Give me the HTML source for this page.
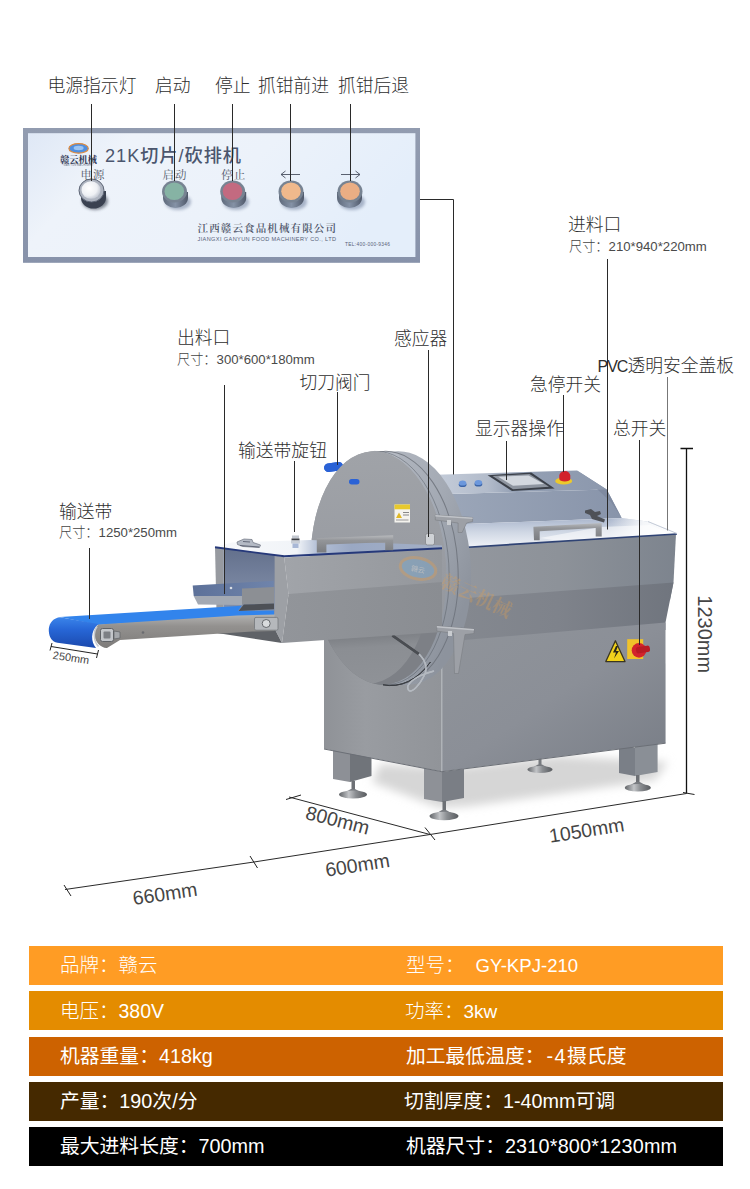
<!DOCTYPE html>
<html lang="zh-CN">
<head>
<meta charset="utf-8">
<title>21K切片/砍排机</title>
<style>
html,body{margin:0;padding:0;background:#fff;}
body{width:750px;height:1189px;position:relative;overflow:hidden;font-family:"Liberation Sans","Noto Sans CJK SC",sans-serif;color:#333;}
#art{position:absolute;left:0;top:0;width:750px;height:1189px;display:block;}
.lb{position:absolute;white-space:nowrap;font-size:17.8px;line-height:20px;font-weight:300;color:#2e2e2e;}
.sm{position:absolute;white-space:nowrap;font-size:13.2px;line-height:14px;font-weight:300;color:#444;}
.pvc{font-size:16px;letter-spacing:-1px;}
.sm .n{color:#4a4a4a;}
.row{position:absolute;left:29px;width:694px;height:39px;}
.row span{position:absolute;top:0;line-height:39px;font-size:19.5px;color:#fff;white-space:nowrap;font-weight:300;}
.row span.a{left:31px;}
.row span.b{left:377px;}
.row.h span{font-weight:400;font-size:19.800px;}
.row i{font-style:normal;}
</style>
</head>
<body>
<svg id="art" width="750" height="1189" viewBox="0 0 750 1189">
<defs>
<linearGradient id="pnl" x1="0" y1="0" x2="1" y2="1">
<stop offset="0" stop-color="#eef2fa"/><stop offset="0.5" stop-color="#f6f8fc"/><stop offset="1" stop-color="#e9eef8"/>
</linearGradient>
</defs>
<!--PANEL-->
<g id="panel">
<defs>
<linearGradient id="pnlb" x1="0" y1="0" x2="0" y2="1"><stop offset="0" stop-color="#929cb0"/><stop offset="1" stop-color="#8792aa"/></linearGradient>
<linearGradient id="pnl2" x1="0" y1="0" x2="1" y2="0.3"><stop offset="0" stop-color="#dfe8f6"/><stop offset="0.25" stop-color="#eef3fa"/><stop offset="0.6" stop-color="#ecf2fa"/><stop offset="1" stop-color="#e4eefa"/></linearGradient>
<radialGradient id="capW" cx="0.4" cy="0.4" r="0.6"><stop offset="0" stop-color="#ffffff"/><stop offset="0.7" stop-color="#eef0f4"/><stop offset="1" stop-color="#c9ced8"/></radialGradient>
<linearGradient id="btnBody" x1="0" y1="0" x2="1" y2="0"><stop offset="0" stop-color="#5f6a7b"/><stop offset="0.5" stop-color="#8592a6"/><stop offset="1" stop-color="#4f5869"/></linearGradient>
<filter id="bl1" x="-30%" y="-30%" width="160%" height="160%"><feGaussianBlur stdDeviation="1.6"/></filter>
</defs>
<rect x="23" y="128" width="397" height="134.800" fill="url(#pnlb)"/>
<rect x="28" y="133.200" width="387.400" height="123.800" fill="url(#pnl2)"/>
<!-- logo -->
<ellipse cx="78.600" cy="148.400" rx="9.700" ry="4.800" fill="#4f8fe0" stroke="#e08a3c" stroke-width="1.200"/>
<ellipse cx="78.600" cy="148" rx="5" ry="2.200" fill="#9cc4f2"/>
<text x="78.500" y="162.500" text-anchor="middle" font-family="'Liberation Serif','Noto Serif CJK SC',serif" font-weight="700" font-size="9.200" fill="#2c3350" textLength="37" lengthAdjust="spacingAndGlyphs">赣云机械</text>
<text x="78.500" y="166" text-anchor="middle" font-family="'Liberation Sans',sans-serif" font-size="2.600" fill="#6a7186" textLength="30">GAN YUN MACHINERY</text>
<text x="105" y="162.300" font-family="'Liberation Sans','Noto Sans CJK SC',sans-serif" font-weight="500" font-size="18.200" fill="#4b566e" textLength="136" lengthAdjust="spacing">21K切片/砍排机</text>
<g font-family="'Liberation Serif','Noto Serif CJK SC',serif" font-size="11.500" fill="#505769" text-anchor="middle">
<text x="93" y="179" letter-spacing="1">电源</text>
<text x="175" y="179" letter-spacing="1">启动</text>
<text x="233.800" y="179" letter-spacing="1">停止</text>
</g>
<g stroke="#4a5060" stroke-width="0.900" fill="none">
<path d="M281 174.500H300M285.500 171L281 174.500L285.500 178"/>
<path d="M341 174.500H360M355.500 171L360 174.500L355.500 178"/>
</g>
<!-- buttons -->
<g id="btns">
<g><ellipse cx="95" cy="201" rx="13" ry="9" fill="#2c3442" opacity="0.55" filter="url(#bl1)"/>
<path d="M79.500 191v7a12.500 10.500 0 0 0 25 0v-7z" fill="#3a4150" transform="translate(1.500 0)"/>
<ellipse cx="91.500" cy="190.500" rx="12.500" ry="11.500" fill="#aeb4c0"/>
<ellipse cx="91.500" cy="190.500" rx="12.500" ry="11.500" fill="none" stroke="#5d6575" stroke-width="1"/>
<ellipse cx="91" cy="190" rx="9.500" ry="8.800" fill="url(#capW)"/></g>
<g><ellipse cx="178" cy="202" rx="13" ry="8" fill="#5a6a8a" opacity="0.45" filter="url(#bl1)"/>
<path d="M162 192v6a12.500 10 0 0 0 25 0v-6z" fill="url(#btnBody)" transform="translate(1 0)"/>
<ellipse cx="174.500" cy="191.500" rx="12.500" ry="11" fill="#778392"/>
<ellipse cx="174.300" cy="191.300" rx="9.800" ry="8.800" fill="#86b3a4"/></g>
<g><ellipse cx="236" cy="202" rx="13" ry="8" fill="#5a6a8a" opacity="0.45" filter="url(#bl1)"/>
<path d="M220.200 192v6a12.500 10 0 0 0 25 0v-6z" fill="url(#btnBody)" transform="translate(1 0)"/>
<ellipse cx="232.700" cy="191.500" rx="12.500" ry="11" fill="#778392"/>
<ellipse cx="232.500" cy="191.300" rx="9.800" ry="8.800" fill="#c36a80"/></g>
<g><ellipse cx="294" cy="202" rx="13" ry="8" fill="#5a6a8a" opacity="0.45" filter="url(#bl1)"/>
<path d="M278.500 192v6a12.500 10 0 0 0 25 0v-6z" fill="url(#btnBody)" transform="translate(0.500 0)"/>
<ellipse cx="291" cy="191.500" rx="12.500" ry="11" fill="#778392"/>
<ellipse cx="291" cy="191.300" rx="9.800" ry="8.800" fill="#f0b98c"/></g>
<g><ellipse cx="352" cy="202" rx="13" ry="8" fill="#5a6a8a" opacity="0.45" filter="url(#bl1)"/>
<path d="M337 192v6a12.500 10 0 0 0 25 0v-6z" fill="url(#btnBody)" transform="translate(0 0)"/>
<ellipse cx="350" cy="191.500" rx="12.500" ry="11" fill="#778392"/>
<ellipse cx="350" cy="191.300" rx="9.800" ry="8.800" fill="#eaae84"/></g>
</g>
<text x="197.500" y="232" font-family="'Liberation Serif','Noto Serif CJK SC',serif" font-size="10.500" font-weight="600" fill="#4d5468" textLength="138.500" lengthAdjust="spacing">江西赣云食品机械有限公司</text>
<text x="197.500" y="240.800" font-family="'Liberation Sans',sans-serif" font-size="5.600" fill="#566078" textLength="138.500" lengthAdjust="spacing">JIANGXI GANYUN FOOD MACHINERY CO., LTD</text>
<text x="345" y="245.800" font-family="'Liberation Sans',sans-serif" font-size="4.800" fill="#566078" textLength="45" lengthAdjust="spacing">TEL:400-000-9346</text>

</g>
<!--MACHINE-->
<g id="machine">
<defs>
<radialGradient id="shd" cx="0.5" cy="0.5" r="0.5"><stop offset="0" stop-color="#a8a8a8" stop-opacity="0.8"/><stop offset="0.55" stop-color="#cfcfcf" stop-opacity="0.55"/><stop offset="1" stop-color="#ffffff" stop-opacity="0"/></radialGradient>
<linearGradient id="gFront" x1="0" y1="0" x2="1" y2="0"><stop offset="0" stop-color="#8f9297"/><stop offset="0.35" stop-color="#999ca1"/><stop offset="1" stop-color="#919499"/></linearGradient>
<linearGradient id="gRight" x1="0" y1="0" x2="1" y2="1"><stop offset="0" stop-color="#90949a"/><stop offset="0.5" stop-color="#8b8f97"/><stop offset="1" stop-color="#787d86"/></linearGradient>
<linearGradient id="gBand1" x1="0" y1="0" x2="1" y2="0"><stop offset="0" stop-color="#94989f"/><stop offset="0.5" stop-color="#8d9299"/><stop offset="1" stop-color="#7d848e"/></linearGradient>
<linearGradient id="gBand2" x1="0" y1="0" x2="1" y2="0"><stop offset="0" stop-color="#858990"/><stop offset="0.5" stop-color="#7f838b"/><stop offset="1" stop-color="#70757e"/></linearGradient>
<linearGradient id="gDisc" gradientUnits="userSpaceOnUse" x1="0" y1="451" x2="0" y2="685"><stop offset="0" stop-color="#a0a3a8"/><stop offset="0.4" stop-color="#9a9da3"/><stop offset="0.76" stop-color="#94979d"/><stop offset="0.78" stop-color="#8b8e94"/><stop offset="1" stop-color="#8e9197"/></linearGradient>
<linearGradient id="gRim2" gradientUnits="userSpaceOnUse" x1="0" y1="451" x2="0" y2="685"><stop offset="0" stop-color="#b5bac3"/><stop offset="1" stop-color="#9aa0aa"/></linearGradient>
<linearGradient id="gRim" x1="0.3" y1="0" x2="1" y2="0.6"><stop offset="0" stop-color="#b5bac3"/><stop offset="0.55" stop-color="#a4aab4"/><stop offset="1" stop-color="#8d939d"/></linearGradient>
<linearGradient id="gTop" x1="0" y1="0" x2="0" y2="1"><stop offset="0" stop-color="#aab6cc"/><stop offset="0.45" stop-color="#cfd7e4"/><stop offset="1" stop-color="#f3f5f9"/></linearGradient>
<linearGradient id="gTopR" x1="0" y1="0" x2="1" y2="0"><stop offset="0" stop-color="#ffffff" stop-opacity="0"/><stop offset="0.5" stop-color="#fbfcfd" stop-opacity="0.9"/><stop offset="1" stop-color="#ffffff" stop-opacity="1"/></linearGradient>
<linearGradient id="gTopH" gradientUnits="userSpaceOnUse" x1="215" y1="0" x2="442" y2="0"><stop offset="0" stop-color="#f8f9fb"/><stop offset="0.36" stop-color="#f1f4f8"/><stop offset="0.45" stop-color="#b4c0d6"/><stop offset="0.6" stop-color="#9aa8c3"/><stop offset="1" stop-color="#a3afc6"/></linearGradient>
<linearGradient id="gCons" x1="0" y1="0" x2="1" y2="0"><stop offset="0" stop-color="#c4ccd9"/><stop offset="0.3" stop-color="#b3bccb"/><stop offset="0.45" stop-color="#95a1b5"/><stop offset="1" stop-color="#8c98ad"/></linearGradient>
<linearGradient id="gConsF" x1="0" y1="0" x2="1" y2="0"><stop offset="0" stop-color="#9ca7b9"/><stop offset="1" stop-color="#8894aa"/></linearGradient>
<linearGradient id="gInt" x1="0" y1="0" x2="0" y2="1"><stop offset="0" stop-color="#63708c"/><stop offset="0.5" stop-color="#7c89a4"/><stop offset="1" stop-color="#8d9ab2"/></linearGradient>
<linearGradient id="gChute" x1="0" y1="0" x2="1" y2="0"><stop offset="0" stop-color="#5d7199"/><stop offset="1" stop-color="#6f84ab"/></linearGradient>
<linearGradient id="gBelt" x1="0" y1="0" x2="0" y2="1"><stop offset="0" stop-color="#3a84ea"/><stop offset="0.4" stop-color="#2766d6"/><stop offset="1" stop-color="#1b49ad"/></linearGradient>
<linearGradient id="gRail" x1="0" y1="0" x2="0" y2="1"><stop offset="0" stop-color="#b3b3b2"/><stop offset="0.35" stop-color="#93918f"/><stop offset="1" stop-color="#7d7b79"/></linearGradient>
<linearGradient id="gHandle" x1="0" y1="0" x2="0" y2="1"><stop offset="0" stop-color="#b9bbbe"/><stop offset="0.3" stop-color="#939599"/><stop offset="1" stop-color="#7a7c80"/></linearGradient>
<linearGradient id="gPad" x1="0" y1="0" x2="1" y2="0"><stop offset="0" stop-color="#606367"/><stop offset="0.35" stop-color="#c2c4c7"/><stop offset="0.6" stop-color="#8a8d91"/><stop offset="1" stop-color="#585b5f"/></linearGradient>
<linearGradient id="gLow" gradientUnits="userSpaceOnUse" x1="0" y1="630" x2="0" y2="685"><stop offset="0" stop-color="#787b80"/><stop offset="0.3" stop-color="#8b8e93"/><stop offset="1" stop-color="#8f9297"/></linearGradient>
<linearGradient id="gHUp" x1="0" y1="0" x2="1" y2="0"><stop offset="0" stop-color="#a1a4a9"/><stop offset="1" stop-color="#94979c"/></linearGradient>
<linearGradient id="gHLow" x1="0" y1="0" x2="1" y2="0"><stop offset="0" stop-color="#92959a"/><stop offset="1" stop-color="#8a8d92"/></linearGradient>
<filter id="bl3" x="-20%" y="-50%" width="140%" height="200%"><feGaussianBlur stdDeviation="5"/></filter>
</defs>
<!-- shadow -->
<g id="shadow" filter="url(#bl3)">
<polygon points="372,782 440,808 470,806 655,780 668,762 560,756 450,768 380,764" fill="#d6d6d6"/>
</g>
<!-- back pad -->
<rect x="538.500" y="758" width="3" height="9" fill="#777a7f"/>
<path d="M538 764.500h4l8 4.500h-20z" fill="#787b80"/>
<ellipse cx="540" cy="769.500" rx="12.500" ry="3.500" fill="url(#gPad)"/>
<!-- legs -->
<g id="legs">
<polygon points="333,748 350,751 350,782 333,779" fill="#8d9096"/>
<polygon points="350,751 371.500,754 371.500,776 350,782" fill="#70747a"/>
<rect x="351.500" y="781" width="3.500" height="10" fill="#6d7075"/>
<path d="M351 789h4l9 5h-22z" fill="#787b80"/>
<ellipse cx="353" cy="794.500" rx="14" ry="4" fill="url(#gPad)"/>
<polygon points="619,744 635,748 635,776 619,773" fill="#7a7f87"/>
<polygon points="635,745 657.600,742 657.600,772 635,776" fill="#8a8f96"/>
<rect x="636" y="775" width="3.500" height="8" fill="#6d7075"/>
<path d="M635.800 782h4l9 5h-22z" fill="#787b80"/>
<ellipse cx="637.800" cy="787.800" rx="13" ry="3.800" fill="url(#gPad)"/>
<polygon points="424,768 442,772 442,802 424,799" fill="#8e9197"/>
<polygon points="442,772 464,769 464,798 442,802" fill="#7a7e85"/>
<rect x="442.500" y="801" width="3.500" height="10" fill="#6d7075"/>
<path d="M442 810h4l9.500 5.500h-23z" fill="#787b80"/>
<ellipse cx="444" cy="816" rx="14.500" ry="4.300" fill="url(#gPad)"/>
</g>
<!-- lower body -->
<g id="body">
<polygon points="324,600 441.800,600 441.800,771.500 324,748.800" fill="url(#gFront)"/>
<polygon points="441.800,549 676,534 673.500,582.500 670,600 441.800,610" fill="url(#gBand1)"/>
<polygon points="441.800,600 673.500,582.500 665.500,622.500 665.500,630 441.800,650" fill="url(#gBand2)"/>
<polygon points="441.800,642 665.500,622.500 665.600,743 441.800,771.500" fill="url(#gRight)"/>
<path d="M441.800 640V771.500" stroke="#b2b5ba" stroke-width="1.300"/>
<path d="M324 749L441.800 771.700L665.600 743.200" stroke="#6b6f76" stroke-width="1" fill="none"/>
</g>
<!-- warning + switch -->
<g id="sw">
<polygon points="615.400,640.800 625,661.600 605.800,661.600" fill="#f1d21c" stroke="#3a3520" stroke-width="1.300" stroke-linejoin="round"/>
<path d="M616 646l-3 6.500h3l-2 6 5-7.500h-3l2-5z" fill="#2a2618"/>
<rect x="627.200" y="639.200" width="16" height="19.800" fill="#f0c22a"/>
<circle cx="639" cy="650.400" r="7.300" fill="#d2232c"/>
<rect x="636" y="646.800" width="14" height="6.500" rx="2.500" fill="#b91a24" transform="rotate(-8 639 650)"/>
</g>
<!-- console -->
<g id="console">
<polygon points="440,494.200 606.700,489.500 621.700,518 440,525" fill="url(#gConsF)"/>
<polygon points="577,470.500 606.700,489.500 621.700,518 611,502" fill="#7f8aa0"/>
<polygon points="436,474.700 577,470.500 606.700,489.500 440,494.200" fill="url(#gCons)"/>
<polygon points="487.600,475.200 531.300,472.400 554.700,488.400 512,491" fill="#3b4049"/>
<polygon points="492.500,476 529.500,474 549,486.800 513,489.200" fill="#8e95a0"/>
<polygon points="498.200,476.700 528.500,475.600 544,484 513,485.800" fill="#d3d8df"/>
<ellipse cx="462.600" cy="484.500" rx="3.900" ry="2.600" fill="#3b64a8"/>
<ellipse cx="462.600" cy="483" rx="3.700" ry="2.600" fill="#6b97dc"/>
<ellipse cx="478.400" cy="484" rx="3.900" ry="2.600" fill="#3b64a8"/>
<ellipse cx="478.400" cy="482.500" rx="3.700" ry="2.600" fill="#6b97dc"/>
<ellipse cx="563.700" cy="481" rx="8.500" ry="3.600" fill="#ecc92c"/>
<path d="M559.300 475.600a5.500 4.500 0 0 1 11 0v3.500a5.500 2.500 0 0 1-11 0z" fill="#d2222b"/>
</g>
<!-- pvc cover -->
<g id="cover">
<polygon points="440,525 621.700,518 647,521.500 677,533.500 440,548.800" fill="url(#gTop)"/>
<polygon points="610,518.500 621.700,518 647,521.500 677,533.500 610,538" fill="url(#gTopR)"/>
<polygon points="540,538 600,527 650,525 670,533.500 560,541" fill="#ffffff" opacity="0.550"/>
<path d="M440 549L677 534" stroke="#2f4374" stroke-width="1.700"/>
<path d="M533.400 526.700L601.700 523v13.500h-6v-8.500l-56 3.200v9h-5.700z" fill="url(#gHandle)"/>
<path d="M585 510.500l6-1.500 4 3 5-1 1 3-4 2 8 3.500-1 3-12-3.500-2-4-5-2z" fill="#4e5157"/>
<path d="M648 521.500L677 533.500" stroke="#c5ccd8" stroke-width="1"/>
</g>
<!-- disc -->
<g id="disc">
<g transform="translate(25 0) rotate(-3.500 378.400 568)"><ellipse cx="378.400" cy="568" rx="67.500" ry="116.800" fill="url(#gRim)"/></g>
<polygon points="373.700,451.400 398.700,451.400 408.100,684.600 383.100,684.600" fill="url(#gRim2)"/>
<g transform="translate(12 0) rotate(-3.500 378.400 568)"><ellipse cx="378.400" cy="568" rx="67.500" ry="116.800" fill="none" stroke="#6a6f78" stroke-width="1" opacity="0.800"/></g>
<g transform="translate(3 0) rotate(-3.500 378.400 568)"><ellipse cx="378.400" cy="568" rx="67.500" ry="116.800" fill="none" stroke="#565b64" stroke-width="0.800" opacity="0.600"/></g>
<rect x="324" y="462.800" width="19" height="8.500" rx="4.200" fill="#2a62d6" transform="rotate(-8 333 467)"/>
<clipPath id="cpUp"><rect x="300" y="440" width="180" height="190"/></clipPath>
<g clip-path="url(#cpUp)"><g transform="rotate(-3.500 378.400 568)"><ellipse cx="378.400" cy="568" rx="67.500" ry="116.800" fill="url(#gDisc)"/></g></g>
<clipPath id="cpLow"><rect x="300" y="628" width="180" height="70"/></clipPath>
<clipPath id="cpEl"><ellipse cx="378.400" cy="568" rx="67.500" ry="116.800" transform="rotate(-3.500 378.400 568)"/></clipPath>
<g clip-path="url(#cpLow)">
<g transform="rotate(-3.500 378.400 568)"><ellipse cx="378.400" cy="568" rx="67.500" ry="116.800" fill="#7d8086"/></g>
<g clip-path="url(#cpEl)"><ellipse cx="363" cy="566" rx="67.500" ry="116.800" fill="url(#gLow)" transform="rotate(-3.500 378.400 568)"/></g>
</g>
<path d="M383 684.800A67.500 116.800 -3.500 0 0 430.500 662" stroke="#3a3d42" stroke-width="1" fill="none"/>
<path d="M392.400 635.500L418.800 654" stroke="#4a4d52" stroke-width="2.500"/>
<path d="M419 654C425 660 428 668 424 676C420 684 412 694 408.500 690C405 685 414 676 434 671" stroke="#b4b9c0" stroke-width="1.500" fill="none"/>
<rect x="324" y="462.800" width="19" height="8.500" rx="4.200" fill="#2a62d6" transform="rotate(-8 333 467)"/>
<clipPath id="cpUp"><rect x="300" y="440" width="180" height="190"/></clipPath>
<g clip-path="url(#cpUp)"><g transform="rotate(-3.500 378.400 568)"><ellipse cx="378.400" cy="568" rx="67.500" ry="116.800" fill="url(#gDisc)"/></g></g>
<path d="M383 684.800A67.500 116.800 -3.500 0 0 430.500 662" stroke="#3a3d42" stroke-width="1" fill="none"/>
<path d="M392.400 635.500L418.800 654" stroke="#4a4d52" stroke-width="2.500"/>
<path d="M419 654C425 660 428 668 424 676C420 684 412 694 408.500 690C405 685 414 676 434 671" stroke="#b4b9c0" stroke-width="1.500" fill="none"/>
<rect x="394.500" y="504.500" width="15.500" height="18" fill="#f4f3ee"/>
<rect x="394.500" y="504.500" width="15.500" height="4.800" fill="#e8c92e"/>
<path d="M396 518l3-5.500 3 5.500z" fill="#e0b828"/>
<rect x="403" y="512" width="6" height="1" fill="#888"/><rect x="403" y="514.500" width="6" height="1" fill="#888"/><rect x="396" y="519.500" width="12.500" height="1" fill="#999"/>
<rect x="349" y="479" width="10.500" height="5.500" rx="2.700" fill="#2a62d6"/>
</g>
<!-- conveyor housing -->
<g id="housing">
<polygon points="215,547 223.600,548.500 223.600,634 217,633" fill="#979aa0"/>
<polygon points="223.600,548.500 275,555 275,632 223.600,634" fill="url(#gInt)"/>
<polygon points="217,633 275,629 282,643" fill="#5f6267"/>
<polygon points="215,547 232,542.500 310,540 442,545.500 442,548.700 284.200,556.500" fill="url(#gTopH)"/>
<polygon points="274.600,555.500 284.200,557 288.500,594 282,643 274.600,629" fill="#9da0a5"/>
<polygon points="284.200,557.500 442,548.700 442,583 288.500,595" fill="url(#gHUp)"/>
<polygon points="288.500,594 442,582 442,632 282,643" fill="url(#gHLow)"/>
<path d="M215 547.300L284.200 556.300L442 548.300" stroke="#26397a" stroke-width="1.900" fill="none" stroke-linejoin="round"/>
</g>
<!-- chute + belt -->
<g id="belt">
<polygon points="192.700,585.500 273.700,580.800 273.700,597 193.700,596" fill="url(#gChute)"/>
<polygon points="193.700,596 242,596 242,605 198,604.600" fill="#a3a9b3"/>
<circle cx="231" cy="588" r="1.300" fill="#d9dde3"/>
<polygon points="242,588.600 274,587 274,603.500 242,604.600" fill="#8c8f94"/>
<polygon points="243.800,604.600 274,603.500 274,609.300 238.500,611" fill="#4d5056"/>
<path d="M60 617L241.700 605.800L238 611L274 610.600V615L98.300 625Z" fill="#3284ec"/>
<path d="M58 617.500C51.500 619.500 48.500 625 48.800 631C49.200 637.500 52 641.800 57.500 642.800L96 648C91 642 90 631.500 98.300 624L60 617.300Z" fill="url(#gBelt)"/>
<path d="M98.300 624.500L237.400 615.500L274.700 614.500V631L252.300 631.500L120 640L107 648C99 648.500 88 634.500 98.300 624.500Z" fill="url(#gRail)"/>
<path d="M97 626.500C93 632 93.500 641 98.500 646.500" stroke="#c9ccd0" stroke-width="1.600" fill="none"/>
<rect x="100.500" y="628.500" width="13" height="13" rx="2" fill="#c3c6ca" stroke="#5f6266" stroke-width="1"/>
<rect x="103.500" y="631.500" width="7" height="7" rx="1" fill="#7c7f84"/>
<path d="M114 631l6 1v6l-6 1z" fill="#a5a8ac" stroke="#5f6266" stroke-width="0.700"/>
<circle cx="143" cy="632.500" r="1.300" fill="#6a6c70"/>
<rect x="254.500" y="617.400" width="23.500" height="12.800" rx="1.500" fill="#b5b8bc" stroke="#74777b" stroke-width="0.800"/>
<circle cx="266.200" cy="623.500" r="4" fill="#d9dbdd" stroke="#66696d" stroke-width="1"/>
</g>
<!-- disc handle etc -->
<g id="details">
<path d="M316.800 538.200l76.400-3v15h-8v-8l-58.800 2.300v8h-9.600z" fill="url(#gHandle)"/>
<rect x="425.500" y="533.500" width="9" height="11.500" rx="2" fill="#cfd2d6" stroke="#84878b" stroke-width="0.800"/>
<path d="M237 542l7-3 8 0.500 1 3 7.500 2.500-1 2.500-16.500-1-5.500-2z" fill="#b4bac5" stroke="#6d7380" stroke-width="0.700"/>
<path d="M243 541.500l7 0.500M240 545.500l19 1.500" stroke="#5a6070" stroke-width="0.900" fill="none"/>
<rect x="292" y="535.500" width="7" height="3" fill="#c3c8d0"/><rect x="291.500" y="538.500" width="8" height="2" fill="#3c3f45"/><rect x="291" y="540.500" width="9" height="3" fill="#c9ced6"/><rect x="292.500" y="543.500" width="6" height="4.500" fill="#a9b8d6"/>
<path d="M435.300 515l37.300 2.500v4l-6 1.500-4.500 9.500h-4v-9.500l-22.800-3z" fill="#9da0a6" stroke="#7a7d83" stroke-width="0.600"/>
<rect x="447" y="520" width="4" height="5" fill="#c9ccd0"/>
<path d="M435.300 515l37.300 2.500v1.500l-37.300-2.500z" fill="#c0c3c8"/>
<path d="M436.800 626l37.200 3v4.500l-9 1-6.500 39h-4l-1-40-16.700-2.500z" fill="#9da0a6" stroke="#7a7d83" stroke-width="0.600"/>
<rect x="448" y="631" width="4" height="5" fill="#c9ccd0"/>
<path d="M436.800 626l37.200 3v1.500l-37.200-3z" fill="#c0c3c8"/>
</g>
<!-- watermark -->
<g id="wm" opacity="0.330">
<ellipse cx="418" cy="568.500" rx="18" ry="10.500" fill="#6fb0e4" stroke="#e8a14e" stroke-width="3" transform="rotate(12 418 568.500)"/>
<text transform="translate(417.500 572) rotate(12)" text-anchor="middle" font-family="'Liberation Sans','Noto Sans CJK SC',sans-serif" font-size="7" fill="#ffffff">赣云</text>
<text transform="translate(439 586) rotate(25)" font-family="'Liberation Serif','Noto Serif CJK SC',serif" font-weight="700" font-size="19" fill="#e0a052">赣云机械</text>
</g>

</g>
<!--LINES-->
<g id="lines" stroke="#2a2a2a" stroke-width="1" fill="none">
<path d="M91.500 104V181M174.500 104V181M232.500 104V181M290.500 104V181M350.500 104V181"/>
<path d="M420 199.500H453.500V474.500"/>
<path d="M607.500 259V529.500"/>
<path d="M224.500 385V594"/>
<path d="M337.500 392V465"/>
<path d="M294.500 461V532"/>
<path d="M89.500 548V619"/>
<path d="M428.500 350V537"/>
<path d="M506.500 441V480"/>
<path d="M563.500 395V472"/>
<path d="M639.500 440V645"/>
<path d="M667.500 377V530.500" stroke="#777"/>
<path d="M686.500 448V793.500M680.500 448.500H693" stroke="#111" stroke-width="1.300"/>
<path d="M289 797L430 834.500L686.500 793.500M430 834.500L254 862L65 889.500"/>
</g>
<g id="dims">
<g font-family="'Liberation Sans',sans-serif" fill="#454545" text-anchor="middle" font-size="19.500">
<text transform="translate(336 826.800) rotate(14.500)">800mm</text>
<text transform="translate(358.500 871.800) rotate(-8.900)">600mm</text>
<text transform="translate(166 900.400) rotate(-8.300)">660mm</text>
<text transform="translate(587.700 836.900) rotate(-9)">1050mm</text>
<text transform="translate(697.800 634.200) rotate(90)" font-size="20">1230mm</text>
<text transform="translate(70.500 661.500) rotate(8.500)" font-size="11">250mm</text>
</g>
<g stroke="#222" stroke-width="1" fill="none">
<path d="M64 885L71 896M250 856L257.500 868M425 827.500L435 840M286 799.500L301 795M683 792.500L694.500 794.500"/>
<path d="M51 646.500L97.500 654M50 650.500L52 643M96.500 658L98.500 650"/>
</g>

</g>
</svg>
<!--LABELS-->
<div class="lb" style="left:47.500px;top:75.500px;">电源指示灯</div>
<div class="lb" style="left:155px;top:75.500px;">启动</div>
<div class="lb" style="left:215px;top:75.500px;">停止</div>
<div class="lb" style="left:258px;top:75.500px;">抓钳前进</div>
<div class="lb" style="left:338px;top:75.500px;">抓钳后退</div>
<div class="lb" style="left:568px;top:214.500px;">进料口</div>
<div class="sm" style="left:569px;top:240px;">尺寸：<span class="n">210*940*220mm</span></div>
<div class="lb" style="left:177px;top:327.500px;">出料口</div>
<div class="sm" style="left:177px;top:353.200px;">尺寸：<span class="n">300*600*180mm</span></div>
<div class="lb" style="left:394px;top:329px;">感应器</div>
<div class="lb" style="left:597.500px;top:355.500px;"><span class="pvc">PVC</span>透明安全盖板</div>
<div class="lb" style="left:299.500px;top:372.700px;">切刀阀门</div>
<div class="lb" style="left:530px;top:375px;">急停开关</div>
<div class="lb" style="left:475px;top:418.500px;">显示器操作</div>
<div class="lb" style="left:613px;top:418.500px;">总开关</div>
<div class="lb" style="left:238px;top:440.500px;">输送带旋钮</div>
<div class="lb" style="left:59px;top:502px;">输送带</div>
<div class="sm" style="left:59px;top:525.800px;">尺寸：<span class="n">1250*250mm</span></div>
<!--TABLE-->
<div class="row" style="top:946px;background:#ff9c24;"><span class="a">品牌：赣云</span><span class="b">型号：<i style="margin-left:11px;font-size:18.600px;">GY-KPJ-210</i></span></div>
<div class="row" style="top:991px;background:#e48c00;"><span class="a" style="top:0.500px;">电压：380V</span><span class="b" style="left:376px;top:0.500px;">功率：<i style="font-size:19px;">3kw</i></span></div>
<div class="row h" style="top:1037px;background:#cd6200;"><span class="a">机器重量：418kg</span><span class="b">加工最低温度：<i style="letter-spacing:1.500px;margin-left:2px;">-4</i>摄氏度</span></div>
<div class="row h" style="top:1082px;background:#452900;"><span class="a">产量：190次/分</span><span class="b" style="left:375px;">切割厚度：1-40mm可调</span></div>
<div class="row h" style="top:1127px;background:#000;"><span class="a">最大进料长度：700mm</span><span class="b">机器尺寸：<i style="letter-spacing:0.200px;">2310*800*1230mm</i></span></div>
</body>
</html>
